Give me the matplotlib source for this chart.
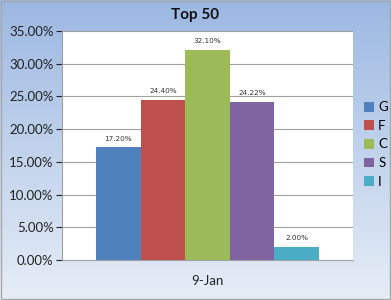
import numpy as np
import matplotlib
matplotlib.use("Agg")
import matplotlib.pyplot as plt
from matplotlib.ticker import FuncFormatter

plt.rcParams['font.family'] = ['Lato', 'DejaVu Sans']

categories = ["G", "F", "C", "S", "I"]
values = [17.20, 24.40, 32.10, 24.22, 2.00]
colors = ["#4f81bd", "#c0504d", "#9bbb59", "#8064a2", "#4bacc6"]
xlabel = "9-Jan"
title = "Top 50"

W, H = 391, 300
fig = plt.figure(figsize=(W/100, H/100), dpi=100)

# gradient background
bg = fig.add_axes([0, 0, 1, 1])
top = np.array([0x9c, 0xb8, 0xe2]) / 255
bot = np.array([0xe6, 0xed, 0xf6]) / 255
t = np.linspace(0, 1, 300)[:, None]
grad = (top[None, :] * (1 - t) + bot[None, :] * t)[:, None, :]
bg.imshow(np.repeat(grad, 4, axis=1), aspect="auto", extent=[0, 1, 0, 1])
bg.set_xlim(0, 1); bg.set_ylim(0, 1)
bg.axis("off")
bg.add_patch(plt.Rectangle((0.002, 0.003), 0.996, 0.994, fill=False,
                           edgecolor="#a8a8a8", lw=1.0, transform=bg.transAxes))

left, right = 62, 353
ytop, ybot = 31, 260
ax = fig.add_axes([left/W, 1 - ybot/H, (right-left)/W, (ybot-ytop)/H])
ax.set_facecolor("white")

n = len(values)
bw = 44.6 / (right - left)
center = (207.5 - left) / (right - left)
xs = center + (np.arange(n) - (n - 1) / 2) * bw
bars = ax.bar(xs, values, width=bw, color=colors, label=categories, zorder=3)
for x, v in zip(xs, values):
    ax.text(x, v + 0.9, f"{v:.2f}%", ha="center", va="bottom", fontsize=5.2,
            color="#333333", family="DejaVu Sans")

ax.set_xlim(0, 1)
ax.set_ylim(0, 35)
ax.set_yticks(np.arange(0, 36, 5))
ax.yaxis.set_major_formatter(FuncFormatter(lambda v, p: f"{v:.2f}%"))
ax.grid(axis="y", color="#a0a0a0", lw=0.8, zorder=0)
ax.set_xticks([center])
ax.set_xticklabels([xlabel])
ax.tick_params(axis="x", length=0, pad=11, labelsize=9.5, colors="#222222")
ax.tick_params(axis="y", length=4, direction="out", pad=2, labelsize=9.5,
               colors="#222222")
for s in ["top", "right"]:
    ax.spines[s].set_visible(False)
for s in ["left", "bottom"]:
    ax.spines[s].set_color("#a0a0a0")

fig.text(195/W, 1 - 15/H, title, ha="center", va="center", fontsize=11,
         fontweight="bold", color="#111111")

leg = fig.legend(handles=bars, labels=categories, loc="upper left",
                 bbox_to_anchor=(359/W, 1 - 96/H), frameon=False,
                 fontsize=9.5, handlelength=0.75, handleheight=0.75,
                 handletextpad=0.3, labelspacing=0.5, borderaxespad=0)

fig.savefig("out.png", dpi=100)
